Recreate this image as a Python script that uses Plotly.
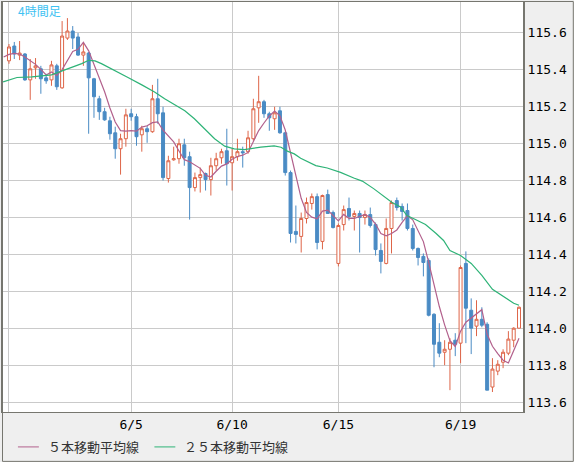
import plotly.graph_objects as go

# ---- data (4-hour candles) ----
bar_index = list(range(97))

open_ = [115.446, 115.526, 115.477, 115.483, 115.343, 115.408, 115.403, 115.354, 115.343, 115.419,
         115.300, 115.569, 115.607, 115.575, 115.477, 115.488, 115.349, 115.241, 115.171, 115.122,
         115.057, 114.971, 115.025, 115.160, 115.144, 115.046, 115.079, 115.063, 115.241, 115.165,
         114.810, 114.911, 114.917, 114.992, 114.928, 114.761, 114.815, 114.837, 114.804, 114.879,
         114.922, 114.960, 114.895, 114.928, 114.955, 114.955, 115.025, 115.192, 115.225, 115.160,
         115.133, 115.176, 115.057, 114.842, 114.524, 114.497, 114.594, 114.675, 114.712, 114.470,
         114.723, 114.626, 114.351, 114.561, 114.648, 114.605, 114.621, 114.599, 114.615, 114.561,
         114.421, 114.351, 114.540, 114.691, 114.659, 114.637, 114.540, 114.432, 114.389, 114.367,
         114.076, 113.925, 113.871, 113.887, 113.936, 113.920, 114.351, 114.098, 114.012, 114.049,
         114.022, 113.683, 113.769, 113.817, 113.866, 113.936, 114.001]

high = [115.537, 115.548, 115.553, 115.488, 115.456, 115.461, 115.419, 115.376, 115.446, 115.430,
        115.661, 115.677, 115.634, 115.596, 115.542, 115.494, 115.354, 115.257, 115.192, 115.144,
        115.090, 115.052, 115.187, 115.187, 115.160, 115.095, 115.095, 115.316, 115.349, 115.198,
        114.933, 114.982, 115.025, 115.025, 114.955, 114.842, 114.869, 114.842, 114.922, 114.949,
        114.971, 115.079, 114.971, 115.025, 114.982, 115.068, 115.241, 115.365, 115.235, 115.171,
        115.198, 115.198, 115.063, 114.853, 114.664, 114.626, 114.707, 114.729, 114.729, 114.723,
        114.750, 114.637, 114.567, 114.664, 114.707, 114.637, 114.637, 114.637, 114.653, 114.572,
        114.459, 114.594, 114.691, 114.707, 114.675, 114.675, 114.561, 114.437, 114.405, 114.378,
        114.082, 114.028, 113.936, 113.947, 113.974, 114.340, 114.416, 114.162, 114.152, 114.114,
        114.033, 113.839, 113.828, 113.887, 113.985, 114.006, 114.119]

low = [115.430, 115.456, 115.450, 115.338, 115.235, 115.349, 115.268, 115.322, 115.311, 115.289,
       115.295, 115.559, 115.510, 115.472, 115.419, 115.052, 115.138, 115.127, 115.122, 115.020,
       114.917, 114.831, 114.982, 115.122, 114.987, 114.955, 115.003, 115.057, 115.106, 114.799,
       114.788, 114.906, 114.890, 114.879, 114.588, 114.740, 114.734, 114.745, 114.718, 114.853,
       114.890, 114.772, 114.745, 114.906, 114.869, 114.944, 115.014, 115.111, 115.138, 115.068,
       115.073, 115.052, 114.826, 114.464, 114.459, 114.410, 114.567, 114.642, 114.427, 114.427,
       114.621, 114.540, 114.335, 114.529, 114.583, 114.529, 114.410, 114.561, 114.545, 114.394,
       114.297, 114.346, 114.405, 114.637, 114.583, 114.529, 114.421, 114.340, 114.281, 114.065,
       113.790, 113.844, 113.801, 113.666, 113.850, 113.812, 113.920, 113.861, 113.958, 114.006,
       113.666, 113.656, 113.747, 113.785, 113.855, 113.898, 114.001]

close = [115.521, 115.483, 115.488, 115.343, 115.403, 115.419, 115.349, 115.338, 115.424, 115.306,
         115.580, 115.607, 115.569, 115.477, 115.494, 115.354, 115.252, 115.171, 115.127, 115.052,
         114.971, 115.025, 115.154, 115.144, 115.036, 115.079, 115.063, 115.241, 115.160, 114.815,
         114.906, 114.917, 114.998, 114.922, 114.761, 114.815, 114.831, 114.804, 114.879, 114.917,
         114.955, 114.890, 114.928, 114.955, 114.949, 115.030, 115.187, 115.225, 115.160, 115.138,
         115.165, 115.057, 114.842, 114.513, 114.508, 114.594, 114.680, 114.712, 114.464, 114.718,
         114.621, 114.545, 114.556, 114.642, 114.605, 114.621, 114.599, 114.615, 114.556, 114.426,
         114.362, 114.540, 114.680, 114.653, 114.632, 114.540, 114.432, 114.383, 114.356, 114.071,
         113.914, 113.866, 113.887, 113.925, 113.914, 114.329, 114.109, 114.001, 114.049, 114.017,
         113.666, 113.780, 113.806, 113.871, 113.942, 114.001, 114.114]

# 5-bar moving average (bar -1 .. 96)
ma5_index = list(range(-1, 97))
ma5 = [115.467, 115.481, 115.486, 115.483, 115.467, 115.448, 115.427, 115.400, 115.370, 115.386,
       115.367, 115.399, 115.451, 115.497, 115.508, 115.546, 115.500, 115.429, 115.350, 115.279,
       115.191, 115.115, 115.069, 115.066, 115.069, 115.066, 115.088, 115.095, 115.112, 115.116,
       115.071, 115.037, 115.008, 114.959, 114.912, 114.901, 114.883, 114.865, 114.827, 114.818,
       114.849, 114.877, 114.889, 114.914, 114.929, 114.936, 114.951, 115.010, 115.069, 115.110,
       115.148, 115.175, 115.149, 115.072, 114.943, 114.817, 114.703, 114.627, 114.601, 114.592,
       114.634, 114.639, 114.612, 114.581, 114.616, 114.594, 114.594, 114.605, 114.616, 114.599,
       114.564, 114.512, 114.500, 114.513, 114.532, 114.573, 114.609, 114.587, 114.528, 114.469,
       114.357, 114.231, 114.118, 114.019, 113.933, 113.902, 113.985, 114.033, 114.056, 114.081,
       114.101, 113.968, 113.903, 113.864, 113.828, 113.813, 113.880, 113.947]

# 25-bar moving average, read at these bar positions
ma25_index = [-1.1, 1.5, 4.3, 8, 10, 11.8, 13.7, 15, 16.2, 17.4, 19.3, 22.4, 25, 27.4, 29.3, 31.2,
              33.1, 34.9, 36.8, 38.7, 40.6, 42.4, 44.3, 46.2, 47.4, 49.9, 51.2, 52.4, 53.7, 54.9,
              57.75, 59.9, 62.4, 64.9, 66.5, 68.7, 70.6, 72.1, 73.7, 74.9, 76.5, 78.4, 80.4, 81.8,
              83, 85, 87, 89, 91, 93, 95, 96]
ma25 = [115.332, 115.356, 115.359, 115.370, 115.392, 115.409, 115.431, 115.449, 115.446, 115.431,
        115.401, 115.356, 115.316, 115.278, 115.241, 115.208, 115.176, 115.133, 115.079, 115.025,
        114.985, 114.970, 114.966, 114.975, 114.980, 114.986, 114.979, 114.958, 114.943, 114.919,
        114.880, 114.867, 114.843, 114.813, 114.796, 114.754, 114.711, 114.680, 114.656, 114.610,
        114.588, 114.561, 114.513, 114.475, 114.421, 114.394, 114.351, 114.286, 114.211, 114.173,
        114.136, 114.125]

date_ticks = [0, 23, 42, 62, 85]
date_labels = ["", "6/5", "6/10", "6/15", "6/19"]
price_ticks = [113.6, 113.8, 114.0, 114.2, 114.4, 114.6, 114.8, 115.0, 115.2, 115.4, 115.6]
legend_names = ["５本移動平均線", "２５本移動平均線"]

RED = "#de6548"
BLUE = "#4a8bc4"
PINK = "#b2608c"
GREEN = "#2eb377"
FRAME = "#76766f"

W, H = 574, 462
ML, MR, MT, MB = 1, 51, 1, 50
PW, PH = W - ML - MR, H - MT - MB


def px_x(px):
    return (px - ML) / PW


def px_y(py):
    return (H - MB - py) / PH


fig = go.Figure()
fig.add_trace(go.Candlestick(
    x=bar_index, open=open_, high=high, low=low, close=close,
    increasing=dict(line=dict(color=RED, width=1), fillcolor="#ffffff"),
    decreasing=dict(line=dict(color=BLUE, width=1), fillcolor=BLUE),
    whiskerwidth=0, hoverinfo="skip", showlegend=False,
))
fig.add_trace(go.Scatter(x=ma5_index, y=ma5, mode="lines",
                         line=dict(color=PINK, width=1.2), showlegend=False, hoverinfo="skip"))
fig.add_trace(go.Scatter(x=ma25_index, y=ma25, mode="lines",
                         line=dict(color=GREEN, width=1.2), showlegend=False, hoverinfo="skip"))

mono = dict(family="DejaVu Sans Mono", size=13, color="#000000")

fig.update_layout(
    width=W, height=H,
    margin=dict(l=ML, r=MR, t=MT, b=MB, pad=0),
    paper_bgcolor="#efefef", plot_bgcolor="#ffffff",
    boxgap=0.2,
    xaxis=dict(range=[-1.125, 96.75], tickmode="array", tickvals=date_ticks, ticktext=date_labels,
               showgrid=True, gridcolor="#cacaca", gridwidth=1, zeroline=False,
               showline=True, linecolor=FRAME, linewidth=1, mirror=True,
               ticks="", tickfont=mono, rangeslider=dict(visible=False), fixedrange=True),
    yaxis=dict(range=[113.548, 115.764], side="right", tickmode="array", tickvals=price_ticks,
               tickformat=".1f", showgrid=True, gridcolor="#cacaca", gridwidth=1, zeroline=False,
               showline=True, linecolor=FRAME, linewidth=2, mirror=True,
               ticks="", tickfont=mono, fixedrange=True),
    font=dict(family="Noto Sans CJK JP"),
)

# outer frame of the whole widget
fig.add_shape(type="rect", xref="paper", yref="paper",
              x0=px_x(0.5), x1=px_x(W - 0.5), y0=px_y(H - 0.5), y1=px_y(0.5),
              line=dict(color=FRAME, width=1), fillcolor="rgba(0,0,0,0)", layer="above")

# title label
fig.add_annotation(text="4時間足", xref="paper", yref="paper", x=px_x(14), y=px_y(10),
                   xanchor="left", yanchor="middle", showarrow=False,
                   font=dict(family="Noto Sans CJK JP", size=12, color="#3ec2f2"))

# legend (line samples + labels)
leg_y = px_y(447)
for (x0, x1, tx), name, col in zip([(16, 37, 44), (153, 174, 181)], legend_names, [PINK, GREEN]):
    fig.add_shape(type="line", xref="paper", yref="paper", x0=px_x(x0), x1=px_x(x1),
                  y0=leg_y, y1=leg_y, line=dict(color=col, width=1))
    fig.add_annotation(text=name, xref="paper", yref="paper", x=px_x(tx), y=leg_y,
                       xanchor="left", yanchor="middle", showarrow=False,
                       font=dict(family="Noto Sans CJK JP", size=13, color="#333333"))

fig.write_html("out.html", config=dict(displayModeBar=False))
